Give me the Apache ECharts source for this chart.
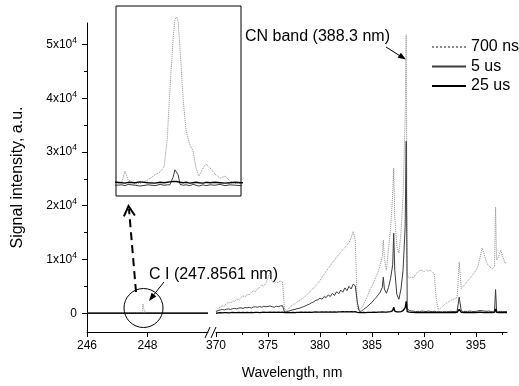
<!DOCTYPE html>
<html>
<head>
<meta charset="utf-8">
<script src="https://cdn.jsdelivr.net/npm/echarts@6/dist/echarts.min.js"></script>
<style>
html, body { margin: 0; padding: 0; background: #fff; }
#main { width: 519px; height: 386px; }
</style>
</head>
<body>
<div id="main"></div>
<script>
var FONT = 'Liberation Sans, Arial, sans-serif';
var names = ['700 ns', '5 us', '25 us'];

// C I region, 246-250 nm (also drawn in the inset)
var wlC = [246.0, 247.0, 247.700, 247.715, 247.723, 247.731, 247.749, 247.761, 247.782, 247.800,
  247.813, 247.823, 247.831, 247.838, 247.846, 247.851, 247.855, 247.859, 247.864, 247.872,
  247.879, 247.889, 247.897, 247.905, 247.912, 247.923, 247.930, 247.941, 247.953, 247.966,
  247.979, 247.992, 248.005, 248.020, 249.0, 250.0];
var ci700 = [0, 0, 0, 25, 155, 50, 0, 5, 50, 110,
  145, 205, 530, 1130, 1730, 1970, 2000, 1950, 1610, 1010,
  650, 470, 400, 190, 95, 190, 240, 190, 120, 70,
  95, 35, 10, 10, 0, 0];
var ci5 = [-10, -10, -15, -10, -20, -5, -15, -25, -10, -20,
  -5, -15, -10, -10, 80, 170, 190, 110, -5, -15,
  -10, -20, -5, -15, -25, -10, -20, -10, -15, -5,
  -20, -10, -15, -20, -10, -10];
var ci25 = [15, 15, 20, 15, 10, 20, 15, 25, 15, 10,
  20, 15, 20, 25, 30, 35, 30, 25, 20, 15,
  20, 10, 15, 20, 15, 10, 20, 15, 20, 15,
  10, 15, 20, 15, 15, 15];

// 370-398 nm
var wlR = [
  370.0, 370.2, 370.4, 370.6, 370.8,
  371.0, 371.2, 371.4, 371.6, 371.8,
  372.0, 372.2, 372.4, 372.6, 372.8,
  373.0, 373.2, 373.4, 373.6, 373.8,
  374.0, 374.2, 374.4, 374.6, 374.8,
  375.0, 375.2, 375.4, 375.6, 375.8,
  376.0, 376.2, 376.4, 376.6, 376.8,
  377.0, 377.2, 377.4, 377.6, 377.8,
  378.0, 378.2, 378.4, 378.6, 378.8,
  379.0, 379.2, 379.4, 379.6, 379.8,
  380.0, 380.2, 380.4, 380.6, 380.8,
  381.0, 381.2, 381.4, 381.6, 381.8,
  382.0, 382.2, 382.4, 382.6, 382.8,
  383.0, 383.2, 383.4, 383.6, 383.8,
  384.0, 384.2, 384.4, 384.6, 384.8,
  385.0, 385.2, 385.4, 385.6, 385.8,
  386.0, 386.1, 386.2, 386.4, 386.6, 386.8,
  387.0, 387.1, 387.2, 387.4, 387.6, 387.8,
  388.0, 388.2, 388.3, 388.4, 388.6, 388.8,
  389.0, 389.2, 389.4, 389.6, 389.8,
  390.0, 390.2, 390.4, 390.6, 390.8,
  391.0, 391.2, 391.4, 391.6, 391.8,
  392.0, 392.2, 392.4, 392.6, 392.8,
  393.0, 393.2, 393.4, 393.6, 393.8,
  394.0, 394.2, 394.4, 394.6, 394.8,
  395.0, 395.2, 395.4, 395.6, 395.8,
  396.0, 396.2, 396.4, 396.6, 396.8, 396.9,
  397.0, 397.2, 397.4, 397.6, 397.8,
  398.0];
var sp700 = [
  500, 900, 1100, 1400, 1300,
  1800, 2000, 1900, 2300, 2200,
  2600, 2500, 2900, 3200, 3000,
  3500, 3400, 3900, 4200, 4000,
  4600, 4800, 5300, 5000, 5600,
  6600, 7500, 5900, 5600, 5800,
  5700, 6000, 5800, 700, 500,
  900, 1300, 1500, 1800, 2100,
  2300, 2600, 2800, 3200, 3500,
  3900, 4300, 4700, 5100, 5600,
  6000, 6700, 7200, 7800, 8400,
  8800, 9500, 9800, 10400, 10900,
  11300, 11800, 12200, 12700, 13100,
  14000, 15200, 13600, 800, 600,
  1000, 1600, 2500, 3300, 4300,
  5000, 5900, 6800, 7700, 8900,
  10500, 13600, 10200, 8000, 12000, 16000,
  22000, 27000, 18000, 12500, 11200, 15000,
  22000, 36000, 51800, 7000, 6500, 6800,
  6600, 7200, 7600, 7900, 8000,
  7700, 8100, 7800, 8000, 7600,
  7400, 2400, 600, 900, 1300,
  1600, 1900, 2100, 2400, 2600,
  2700, 3000, 9500, 4600, 5000,
  5500, 6000, 6400, 6900, 7400,
  7900, 8700, 10300, 12100, 11000,
  9600, 8900, 8500, 8300, 8600, 19700,
  9900, 10600, 11700, 10500, 9300,
  9500];
var sp5 = [
  300, 500, 600, 700, 600,
  750, 800, 700, 850, 900,
  800, 950, 1000, 900, 1050,
  1000, 1100, 950, 1150, 1200,
  1100, 1250, 1100, 1300, 1200,
  1250, 1350, 1200, 1100, 1300,
  1200, 1350, 1400, 200, 300,
  400, 500, 650, 700, 850,
  900, 1050, 1200, 1350, 1550,
  1700, 1950, 2100, 2400, 2500,
  2800, 2600, 3100, 2900, 3400,
  3100, 3700, 3300, 4000, 3600,
  4300, 3900, 4700, 4200, 5000,
  4500, 5400, 5100, 2000, 300,
  400, 700, 1000, 1300, 1700,
  2000, 2500, 2900, 3400, 3900,
  4800, 6700, 4500, 3700, 4800, 6500,
  9000, 14900, 8000, 3500, 2600, 4500,
  8000, 16000, 32000, 800, 500, 400,
  400, 300, 350, 300, 400,
  350, 300, 400, 350, 300,
  350, 300, 250, 300, 250,
  300, 250, 300, 350, 300,
  300, 350, 3000, 400, 300,
  350, 300, 400, 350, 300,
  350, 400, 500, 450, 400,
  350, 400, 350, 300, 400, 4400,
  400, 300, 350, 300, 300,
  300];
var sp25 = [
  0, 50, 100, 50, 100,
  100, 50, 100, 150, 100,
  100, 150, 100, 150, 100,
  150, 100, 150, 100, 150,
  150, 100, 150, 200, 150,
  150, 200, 150, 200, 150,
  200, 150, 200, 100, 100,
  150, 100, 150, 100, 150,
  150, 200, 150, 200, 150,
  200, 150, 200, 250, 200,
  200, 250, 200, 250, 200,
  250, 200, 250, 200, 250,
  250, 300, 250, 300, 250,
  300, 250, 300, 150, 100,
  100, 150, 100, 150, 150,
  150, 200, 150, 200, 200,
  250, 400, 200, 200, 250, 300,
  500, 1100, 400, 250, 250, 300,
  500, 1000, 2200, 300, 200, 150,
  150, 100, 150, 100, 150,
  100, 150, 100, 150, 100,
  150, 100, 150, 100, 100,
  150, 100, 150, 100, 150,
  100, 150, 700, 150, 100,
  150, 100, 150, 100, 150,
  100, 150, 200, 150, 100,
  150, 100, 150, 100, 150, 800,
  150, 100, 150, 100, 150,
  100];

var yTicks = [0, 10000, 20000, 30000, 40000, 50000];
var yMinor = [5000, 15000, 25000, 35000, 45000];
var xTicksL = [246, 248];
var xTicksR = [370, 375, 380, 385, 390, 395];
var xMinorR = [372.5, 377.5, 382.5, 387.5, 392.5, 397.5];

function pairs(x, y) {
  var out = [];
  for (var i = 0; i < x.length; i++) out.push([x[i], y[i]]);
  return out;
}

var lineStyles = [
  { color: '#8c8c8c', width: 1, type: 'dotted' },
  { color: '#3c3c3c', width: 1, type: 'solid' },
  { color: '#000', width: 1.4, type: 'solid' }
];
var dataL = [ci700, ci5, ci25];
var dataR = [sp700, sp5, sp25];

var series = [];
for (var k = 0; k < 3; k++) {
  var base = { name: names[k], type: 'line', symbol: 'none', lineStyle: lineStyles[k],
    itemStyle: { color: lineStyles[k].color, opacity: 0 }, z: 2 + k };
  series.push(Object.assign({}, base, { xAxisIndex: 0, yAxisIndex: 0, data: pairs(wlC, dataL[k]) }));
  series.push(Object.assign({}, base, { xAxisIndex: 1, yAxisIndex: 2, data: pairs(wlR, dataR[k]) }));
  series.push(Object.assign({}, base, { xAxisIndex: 3, yAxisIndex: 3, data: pairs(wlC, dataL[k]) }));
}

function arrowHead(x1, y1, x2, y2, len, half) {
  var dx = x2 - x1, dy = y2 - y1, d = Math.sqrt(dx * dx + dy * dy);
  var ux = dx / d, uy = dy / d;
  var bx = x2 - ux * len, by = y2 - uy * len;
  return [[bx - uy * half, by + ux * half], [x2, y2], [bx + uy * half, by - ux * half]];
}

var axLine = { lineStyle: { color: '#000', width: 1 } };
var lblStyle = { color: '#000', fontSize: 12, fontFamily: FONT };

var option = {
  animation: false,
  backgroundColor: '#fff',
  grid: [
    { left: 87, top: 23, width: 121, bottom: 54 },
    { left: 216, top: 23, right: 12, bottom: 54 },
    { left: 116, top: 6, width: 125, height: 190, show: true, borderColor: '#000', borderWidth: 1, backgroundColor: 'transparent' }
  ],
  xAxis: [
    { gridIndex: 0, type: 'value', min: 246, max: 250, position: 'bottom',
      axisLine: { onZero: false, lineStyle: axLine.lineStyle },
      axisTick: { length: 5, customValues: xTicksL, lineStyle: { color: '#000' } },
      axisLabel: Object.assign({ margin: 8, customValues: xTicksL }, lblStyle),
      splitLine: { show: false } },
    { gridIndex: 1, type: 'value', min: 370, max: 398, interval: 5, position: 'bottom',
      axisLine: { onZero: false, lineStyle: axLine.lineStyle },
      axisTick: { length: 5, customValues: xTicksR, lineStyle: { color: '#000' } },
      axisLabel: Object.assign({ margin: 8, customValues: xTicksR }, lblStyle),
      splitLine: { show: false } },
    { gridIndex: 1, type: 'value', min: 370, max: 398, position: 'bottom',
      axisLine: { show: false, onZero: false },
      axisTick: { length: 3, customValues: xMinorR, lineStyle: { color: '#000' } },
      axisLabel: { show: false },
      splitLine: { show: false } },
    { gridIndex: 2, type: 'value', min: 247.70, max: 248.02, show: false }
  ],
  yAxis: [
    { gridIndex: 0, type: 'value', min: -3500, max: 54000, position: 'left',
      name: 'Signal intensity, a.u.', nameLocation: 'middle', nameGap: 61,
      nameTextStyle: { color: '#000', fontSize: 16, fontFamily: FONT },
      axisLine: { show: true, onZero: false, lineStyle: axLine.lineStyle },
      axisTick: { show: true, length: 5, customValues: yTicks, lineStyle: { color: '#000' } },
      axisLabel: Object.assign({
        margin: 10, customValues: yTicks,
        formatter: function (v) { return v === 0 ? '0' : (v / 10000) + 'x10{sup|4}'; },
        rich: { sup: { fontSize: 8.5, fontFamily: FONT, color: '#000', padding: [0, 0, 8, 0] } }
      }, lblStyle),
      splitLine: { show: false } },
    { gridIndex: 0, type: 'value', min: -3500, max: 54000, position: 'left',
      axisLine: { show: false, onZero: false },
      axisTick: { show: true, length: 3, customValues: yMinor, lineStyle: { color: '#000' } },
      axisLabel: { show: false },
      splitLine: { show: false } },
    { gridIndex: 1, type: 'value', min: -3500, max: 54000, show: false },
    { gridIndex: 2, type: 'value', min: -144, max: 2132, show: false }
  ],
  legend: {
    data: names, orient: 'vertical', left: 431, top: 39, padding: 0,
    itemWidth: 34, itemHeight: 12, itemGap: 3.5,
    itemStyle: { opacity: 0 },
    textStyle: { color: '#000', fontSize: 16, fontFamily: FONT }
  },
  graphic: [
    { type: 'circle', shape: { cx: 143.5, cy: 308, r: 19.5 }, style: { fill: 'none', stroke: '#000', lineWidth: 1 } },
    { type: 'line', shape: { x1: 136, y1: 292, x2: 129, y2: 209 }, style: { stroke: '#000', lineWidth: 2, lineDash: [8, 5] } },
    { type: 'polyline', shape: { points: arrowHead(136, 292, 128.5, 206, 10, 5.5) }, style: { stroke: '#000', lineWidth: 2, fill: 'none' } },
    { type: 'line', shape: { x1: 164, y1: 282, x2: 152, y2: 297 }, style: { stroke: '#000', lineWidth: 1 } },
    { type: 'polygon', shape: { points: arrowHead(164, 282, 149, 301, 8, 3) }, style: { fill: '#000' } },
    { type: 'line', shape: { x1: 386, y1: 47, x2: 401, y2: 56.5 }, style: { stroke: '#000', lineWidth: 1 } },
    { type: 'polygon', shape: { points: arrowHead(386, 47, 406, 59.5, 8, 3) }, style: { fill: '#000' } },
    { type: 'line', shape: { x1: 205, y1: 338, x2: 210, y2: 327 }, style: { stroke: '#000', lineWidth: 1 } },
    { type: 'line', shape: { x1: 211, y1: 338, x2: 216, y2: 327 }, style: { stroke: '#000', lineWidth: 1 } },
    { type: 'text', x: 149, y: 275, style: { text: 'C I (247.8561 nm)', font: '16px ' + FONT, fill: '#000', align: 'left', verticalAlign: 'middle', textAlign: 'left', textVerticalAlign: 'middle' } },
    { type: 'text', x: 245, y: 37, style: { text: 'CN band (388.3 nm)', font: '16px ' + FONT, fill: '#000', align: 'left', verticalAlign: 'middle', textAlign: 'left', textVerticalAlign: 'middle' } },
    { type: 'text', x: 292, y: 373, style: { text: 'Wavelength, nm', font: '14px ' + FONT, fill: '#000', align: 'center', verticalAlign: 'middle', textAlign: 'center', textVerticalAlign: 'middle' } }
  ],
  series: series
};

var chart = echarts.init(document.getElementById('main'));
chart.setOption(option);
</script>
</body>
</html>
